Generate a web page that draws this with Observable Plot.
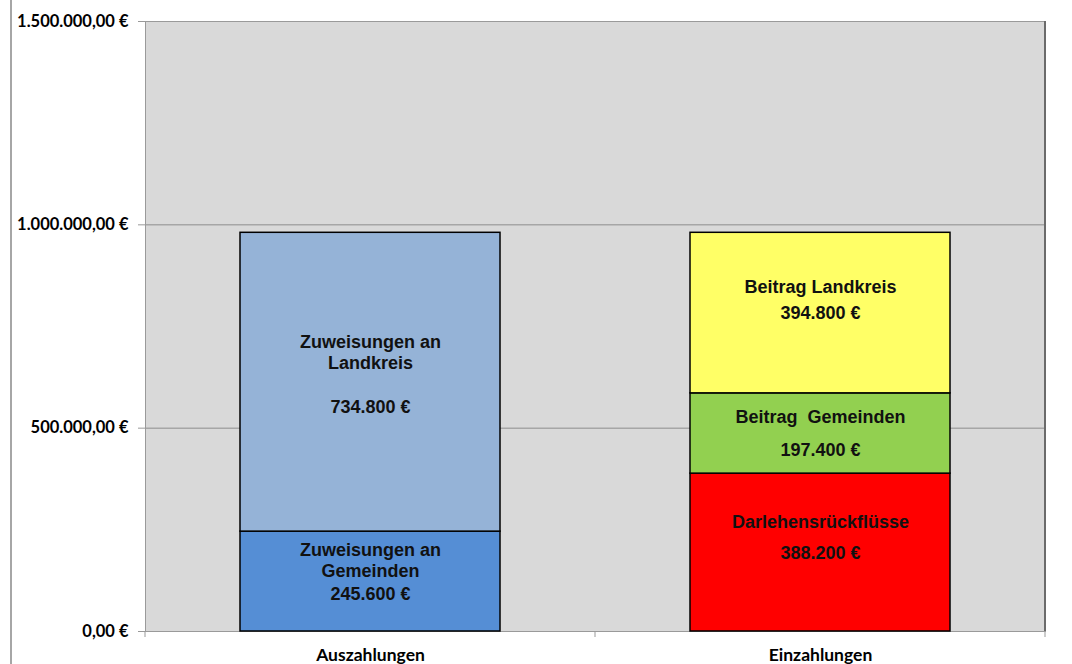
<!DOCTYPE html>
<html>
<head>
<meta charset="utf-8">
<script src="https://cdn.jsdelivr.net/npm/d3@7"></script>
<script src="https://cdn.jsdelivr.net/npm/@observablehq/plot@0.6"></script>
<style>
  html, body { margin: 0; padding: 0; background: #fff; }
  #wrap { position: relative; width: 1072px; height: 664px; overflow: hidden; }
  #edge { position: absolute; left: 10px; top: 0; width: 2px; height: 664px; background: #a6a6a6; }
  svg { display: block; }
</style>
</head>
<body>
<div id="wrap"><div id="edge"></div></div>
<script>
// ---- data ----
const categories = ["Auszahlungen", "Einzahlungen"];
const segCategory = ["Auszahlungen", "Auszahlungen", "Einzahlungen", "Einzahlungen", "Einzahlungen"];
const segNames = ["Zuweisungen an\nGemeinden", "Zuweisungen an\nLandkreis", "Darlehensrückflüsse", "Beitrag  Gemeinden", "Beitrag Landkreis"];
const segValues = [245600, 734800, 388200, 197400, 394800];
const segColors = ["#558ed5", "#95b3d7", "#ff0000", "#92d050", "#ffff66"];
const yTicks = [0, 500000, 1000000, 1500000];
const yTickLabels = ["0,00 €", "500.000,00 €", "1.000.000,00 €", "1.500.000,00 €"];

// ---- label layout (pixel offsets, style only) ----
const nameDy = [-22, -30, -31, -17, -27];
const valueDy = [13, 25, 1, 17, 0];

// build stacked table
const cum = {};
const table = segValues.map((v, i) => {
  const c = segCategory[i];
  const y1 = cum[c] || 0;
  const y2 = y1 + v;
  cum[c] = y2;
  return {cat: c, name: segNames[i], value: v, color: segColors[i], y1, y2, mid: (y1 + y2) / 2,
          label: d3.format(",")(v).replace(/,/g, ".") + " €", ndy: nameDy[i], vdy: valueDy[i]};
});

const W = 1072, H = 664, ML = 145, MR = 27, MT = 21, MB = 33;

// category boundary ticks below the baseline
function boundaryTicks(index, scales, values, dims) {
  const g = d3.create("svg:g").attr("stroke", "#999").attr("stroke-width", 1);
  const inner = dims.width - dims.marginLeft - dims.marginRight;
  const n = categories.length;
  const y0 = scales.y(0);
  for (let k = 0; k <= n; k++) {
    const x = dims.marginLeft + inner * k / n;
    g.append("line").attr("x1", x).attr("x2", x).attr("y1", y0).attr("y2", y0 + 6);
  }
  return g.node();
}

function rightBorder(i, s, v, d) {
  const x = d.width - d.marginRight;
  return d3.create("svg:line").attr("x1", x).attr("x2", x).attr("y1", d.marginTop).attr("y2", d.height - d.marginBottom)
    .attr("stroke", "#6b6b6b").attr("stroke-width", 2).node();
}

const barFont = "'Liberation Sans', Arial, sans-serif";

const chart = Plot.plot({
  width: W, height: H,
  marginLeft: ML, marginRight: MR, marginTop: MT, marginBottom: MB,
  style: {fontFamily: "Lato, 'Liberation Sans', sans-serif", color: "#000", background: "transparent"},
  x: {domain: categories, paddingInner: 0.4222, paddingOuter: 0.2111, axis: null, label: null},
  y: {domain: [0, 1500000], axis: null, label: null},
  color: {type: "identity"},
  marks: [
    Plot.frame({fill: "#d9d9d9", stroke: null}),
    Plot.gridY(yTicks, {stroke: "#8c8c8c", strokeOpacity: 1, strokeWidth: 1}),
    Plot.frame({stroke: "#9a9a9a", strokeWidth: 1}),
    rightBorder,
    Plot.axisY(yTicks, {
      tickSize: 7, tickPadding: 10, stroke: "#999", label: null,
      tickFormat: d => yTickLabels[yTicks.indexOf(d)],
      fontSize: 16.5, fontWeight: "bold", fill: "#000"
    }),
    Plot.axisX({tickSize: 0, tickPadding: 17, fontSize: 17.5, fontWeight: "bold", fill: "#000", label: null}),
    boundaryTicks,
    Plot.barY(table, {x: "cat", y1: "y1", y2: "y2", fill: "color", stroke: "#000", strokeWidth: 1.5}),
    ...table.map(row => Plot.text([row], {x: "cat", y: "mid", text: "name", dy: row.ndy, lineHeight: 1.15,
      fontFamily: barFont, fontWeight: "bold", fontSize: 18, fill: "#111"})),
    ...table.map(row => Plot.text([row], {x: "cat", y: "mid", text: "label", dy: row.vdy,
      fontFamily: barFont, fontWeight: "bold", fontSize: 18, fill: "#111"}))
  ]
});
document.getElementById("wrap").appendChild(chart);
</script>
</body>
</html>
